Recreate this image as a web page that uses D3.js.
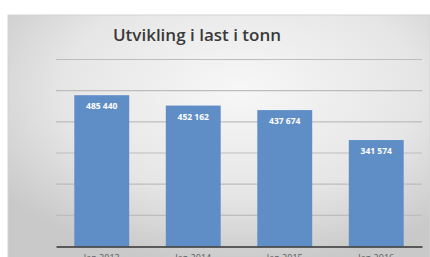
<!DOCTYPE html>
<html>
<head>
<meta charset="utf-8">
<script src="https://cdn.jsdelivr.net/npm/d3@7"></script>
<style>
  body { margin: 0; background: #fff; }
  svg { display: block; }
</style>
</head>
<body>
<div id="chart"></div>
<script>
// Data
var categories = ["Jan 2013", "Jan 2014", "Jan 2015", "Jan 2016"];
var values = [485440, 452162, 437674, 341574];
var valueLabels = ["485 440", "452 162", "437 674", "341 574"];
var yTicks = [0, 100000, 200000, 300000, 400000, 500000, 600000];

var svgWidth = 430;
var svgHeight = 257;

var svg = d3.select("#chart")
  .append("svg")
  .attr("width", svgWidth)
  .attr("height", svgHeight);

// gray gradient background
var defs = svg.append("defs");
var grad = defs.append("radialGradient")
  .attr("id", "bg")
  .attr("cx", "55%").attr("cy", "30%").attr("r", "70%");
grad.append("stop").attr("offset", "0%").attr("stop-color", "#f7f7f7");
grad.append("stop").attr("offset", "60%").attr("stop-color", "#e6e6e6");
grad.append("stop").attr("offset", "100%").attr("stop-color", "#c9c9c9");

svg.append("rect")
  .attr("x", 8).attr("y", 15)
  .attr("width", 422).attr("height", 250)
  .attr("fill", "url(#bg)")
  .attr("stroke", "#d4d4d4");

var plot = { left: 56, right: 422, top: 59.5, bottom: 246.5 };

var xScale = d3.scaleBand()
  .domain(categories)
  .range([plot.left, plot.right])
  .paddingInner(0.4)
  .paddingOuter(0.2);

var yScale = d3.scaleLinear()
  .domain([0, 600000])
  .range([plot.bottom, plot.top]);

// gridlines
svg.append("g")
  .selectAll("line")
  .data(yTicks.slice(1))
  .enter()
  .append("line")
  .attr("x1", plot.left)
  .attr("x2", plot.right)
  .attr("y1", d => yScale(d))
  .attr("y2", d => yScale(d))
  .attr("stroke", "#bdbdbd")
  .attr("stroke-width", 1.2);

// bars
svg.append("g")
  .selectAll("rect")
  .data(values)
  .enter()
  .append("rect")
  .attr("x", (d, i) => xScale(categories[i]))
  .attr("y", d => yScale(d))
  .attr("width", xScale.bandwidth())
  .attr("height", d => yScale(0) - yScale(d))
  .attr("fill", "#5f8ec6");

// value labels
svg.append("g")
  .selectAll("text")
  .data(values)
  .enter()
  .append("text")
  .attr("x", (d, i) => xScale(categories[i]) + xScale.bandwidth() / 2)
  .attr("y", d => yScale(d) + 14)
  .attr("text-anchor", "middle")
  .attr("fill", "#ffffff")
  .attr("font-family", "'Open Sans', sans-serif")
  .attr("font-weight", "bold")
  .attr("font-size", "8.5px")
  .text((d, i) => valueLabels[i]);

// x axis
var bottomAxis = d3.axisBottom(xScale).tickSize(0).tickPadding(8);
var xAxis = svg.append("g")
  .attr("transform", `translate(0, ${plot.bottom})`)
  .call(bottomAxis);
xAxis.select(".domain")
  .attr("stroke", "#333")
  .attr("stroke-width", 1.5);
xAxis.selectAll("text")
  .attr("fill", "#595959")
  .attr("font-family", "'Open Sans', sans-serif")
  .attr("font-size", "9px");

// title
svg.append("text")
  .attr("x", 197)
  .attr("y", 41)
  .attr("text-anchor", "middle")
  .attr("fill", "#3a3a3a")
  .attr("font-family", "'Open Sans', sans-serif")
  .attr("font-size", "17px")
  .attr("font-weight", "600")
  .text("Utvikling i last i tonn");
</script>
</body>
</html>
